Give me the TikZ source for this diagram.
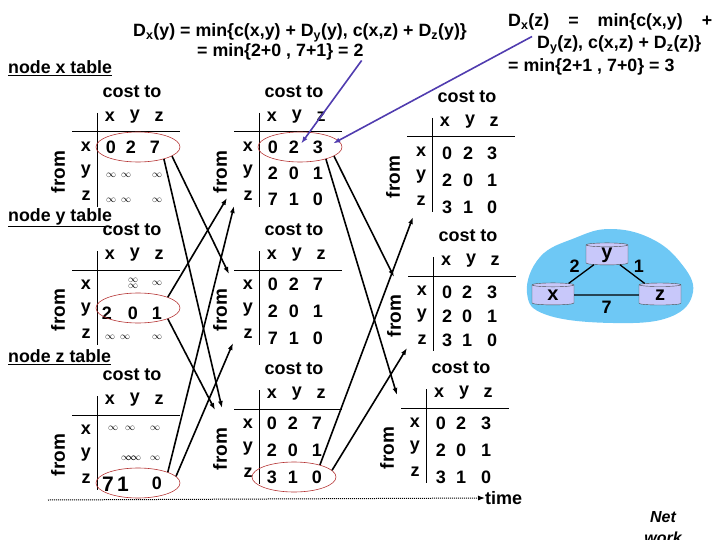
\documentclass[tikz,border=0pt]{standalone}
\usepackage{fontspec}
\setmainfont{Liberation Sans}
\usetikzlibrary{shapes.geometric,arrows.meta}
\definecolor{cloudblue}{RGB}{110,200,245}
\definecolor{routerlav}{RGB}{200,200,250}
\definecolor{ovalred}{RGB}{180,50,50}
\definecolor{calcblue}{RGB}{80,60,175}
% one distance-vector table: name, x of the vertical rule, y of the horizontal rule
\newcommand{\dvtable}[3]{%
  \node[big] (#1cost) at (#2+35,#3-40) {cost to};
  \node[big] (#1hx) at (#2+13,#3-15) {x};
  \node[big] (#1hy) at (#2+38,#3-15) {y};
  \node[big] (#1hz) at (#2+62,#3-15) {z};
  \node[big] (#1rx) at (#2-11,#3+15) {x};
  \node[big] (#1ry) at (#2-11,#3+40) {y};
  \node[big] (#1rz) at (#2-11,#3+64) {z};
  \draw[rule] (#2-25,#3) -- (#2+83,#3);
  \draw[rule] (#2,#3-19) -- (#2,#3+75);
  \node[big, font=\fontsize{19}{22}\selectfont\bfseries, rotate=90] (#1from) at (#2-39,#3+40) {from};
}
\begin{document}
\begin{tikzpicture}[x=1pt, y=-1pt, >={Latex[length=7pt,width=5pt]},
    big/.style={font=\fontsize{18}{21}\selectfont\bfseries, inner sep=0pt},
    inf/.style={font=\fontsize{10}{12}\selectfont, inner sep=0pt},
    note/.style={font=\fontsize{17.8}{21}\selectfont\bfseries, inner sep=0pt, anchor=west},
    rule/.style={line width=1pt},
    oval/.style={ellipse, draw=ovalred, line width=0.6pt, minimum width=84pt, minimum height=30pt, inner sep=0pt},
    upd/.style={->, line width=1.6pt},
    calc/.style={->, line width=1.6pt, calcblue},
    router/.style={cylinder, shape border rotate=90, aspect=0.35, draw=black!70, fill=routerlav,
      minimum width=42pt, minimum height=22pt, inner sep=0pt, font=\fontsize{20}{22}\selectfont\bfseries}]
\useasboundingbox (0,0) rectangle (720,540);

% equations at the top
\node[note] (dxy1) at (133,33) {D\textsubscript{x}(y) = min\{c(x,y) + D\textsubscript{y}(y), c(x,z) + D\textsubscript{z}(y)\}};
\node[note] (dxy2) at (197,52) {= min\{2+0 , 7+1\} = 2};
\node[note] (dxz1) at (508,22) {\makebox[204pt][s]{D\textsubscript{x}(z) = min\{c(x,y) +}};
\node[note] (dxz2) at (537,45) {D\textsubscript{y}(z), c(x,z) + D\textsubscript{z}(z)\}};
\node[note] (dxz3) at (508,67) {= min\{2+1 , 7+0\} = 3};

\node[note] (xtitle) at (8,68) {\underline{node x table}};
\node[note] (ytitle) at (8,218) {\underline{node y table}};
\node[note] (ztitle) at (8,357) {\underline{node z table}};

% time 0
\dvtable{x1}{97}{132}
\dvtable{y1}{97}{270}
\dvtable{z1}{97}{415}
\node[big] (x1a) at (111,147) {0};
\node[big] (x1b) at (131,147) {2};
\node[big] (x1c) at (155,147) {7};
\foreach \r/\yy in {1/175,2/200}
  \foreach \c/\xx in {1/111,2/126,3/157}
    \node[inf] (x1i\r\c) at (\xx,\yy) {$\infty$};
\node[inf] (y1i1) at (133,280) {$\infty$};
\node[inf] (y1i2) at (133,286) {$\infty$};
\node[inf] (y1i3) at (157,283) {$\infty$};
\node[big] (y1a) at (107,313) {2};
\node[big] (y1b) at (133,313) {0};
\node[big] (y1c) at (157,313) {1};
\foreach \c/\xx in {1/110,2/125,3/157}
  \node[inf] (y1z\c) at (\xx,337) {$\infty$};
\foreach \c/\xx in {1/113,2/130,3/155}
  \node[inf] (z1x\c) at (\xx,428) {$\infty$};
\foreach \c/\xx in {1/126,2/131,3/136,4/155}
  \node[inf] (z1y\c) at (\xx,458) {$\infty$};
\node[big, font=\fontsize{21}{23}\selectfont\bfseries] (z1a) at (108,484) {7};
\node[big, font=\fontsize{21}{23}\selectfont\bfseries] (z1b) at (123,484) {1};
\node[big] (z1c) at (157,483) {0};

% time 1
\dvtable{x2}{259}{132}
\dvtable{y2}{259}{270}
\dvtable{z2}{259}{409}
\foreach \a/\b/\c [count=\r from 0] in {0/2/3,2/0/1,7/1/0} {
  \node[big] (x2-\r-1) at (273,147+\r*26) {\a};
  \node[big] (x2-\r-2) at (294,147+\r*26) {\b};
  \node[big] (x2-\r-3) at (318,147+\r*26) {\c};
}
\foreach \a/\b/\c [count=\r from 0] in {0/2/7,2/0/1,7/1/0} {
  \node[big] (y2-\r-1) at (273,284+\r*27) {\a};
  \node[big] (y2-\r-2) at (294,284+\r*27) {\b};
  \node[big] (y2-\r-3) at (318,284+\r*27) {\c};
}
\foreach \a/\b/\c [count=\r from 0] in {0/2/7,2/0/1,3/1/0} {
  \node[big] (z2-\r-1) at (272,423+\r*27) {\a};
  \node[big] (z2-\r-2) at (293,423+\r*27) {\b};
  \node[big] (z2-\r-3) at (317,423+\r*27) {\c};
}

% time 2
\dvtable{x3}{432}{137}
\dvtable{y3}{433}{276}
\dvtable{z3}{426}{408}
\foreach \a/\b/\c [count=\r from 0] in {0/2/3,2/0/1,3/1/0} {
  \node[big] (x3-\r-1) at (447,153+\r*27) {\a};
  \node[big] (x3-\r-2) at (468,153+\r*27) {\b};
  \node[big] (x3-\r-3) at (492,153+\r*27) {\c};
  \node[big] (y3-\r-1) at (447,292+\r*24) {\a};
  \node[big] (y3-\r-2) at (467,292+\r*24) {\b};
  \node[big] (y3-\r-3) at (492,292+\r*24) {\c};
  \node[big] (z3-\r-1) at (441,423+\r*27) {\a};
  \node[big] (z3-\r-2) at (461,423+\r*27) {\b};
  \node[big] (z3-\r-3) at (486,423+\r*27) {\c};
}

% rows that are sent
\node[oval] (x1row) at (138,147) {};
\node[oval] (y1row) at (138,308) {};
\node[oval] (z1row) at (138,483) {};
\node[oval] (x2row) at (300,147) {};
\node[oval] (z2row) at (294,477) {};

% where the messages arrive
\coordinate (y2in1) at (229,274);
\coordinate (z2in1) at (222,408);
\coordinate (z2in2) at (215,410);
\coordinate (x2in1) at (227,198);
\coordinate (x2in2) at (234,206);
\coordinate (y2in2) at (233,343);
\coordinate (y3in1) at (394,277);
\coordinate (z3in1) at (397,395);
\coordinate (x3in1) at (413,217);
\coordinate (y3in2) at (407,348);

\draw[upd] (x1row.-15) -- (y2in1);
\draw[upd] (x1row.-25) -- (z2in1);
\draw[upd] (y1row.20) -- (x2in1);
\draw[upd] (y1row.-20) -- (z2in2);
\draw[upd] (z1row.20) -- (x2in2);
\draw[upd] (z1row.10) -- (y2in2);
\draw[upd] (x2row.-15) -- (y3in1);
\draw[upd] (x2row.-25) -- (z3in1);
\draw[upd] (z2row.25) -- (x3in1);
\draw[upd] (z2row.10) -- (y3in2);

\draw[calc] ([xshift=-2pt]dxy2.south east) -- ([shift={(2pt,-3pt)}]x2-0-2.north east);
\draw[calc] ([xshift=24pt,yshift=-6pt]dxz1.south west) -- ([xshift=10pt,yshift=-3pt]x2-0-3.north east);

% time axis
\coordinate (tstart) at (48,500);
\node[big, anchor=west] (time) at (485,498) {time};
\draw[->, line width=1pt, dash pattern=on 1pt off 1pt] (tstart) -- (time.west);

% the network
\fill[cloudblue] plot[smooth cycle, tension=0.7] coordinates
  {(527,293) (540,257) (575,238) (610,229) (650,238) (680,262) (693,292) (670,317) (613,323) (547,315)};
\node[router] (rx) at (553,295) {x};
\node[router] (ry) at (607,255) {y};
\node[router] (rz) at (660,295) {z};
\draw[line width=1.3pt] (rx) -- node[big, above left=1pt] (c2) {2} (ry);
\draw[line width=1.3pt] (ry) -- node[big, above right=1pt] (c1) {1} (rz);
\draw[line width=1.3pt] (rx) -- node[big, below=5pt] (c7) {7} (rz);

\node[font=\fontsize{16}{21}\selectfont\bfseries\itshape, align=center, inner sep=0pt] (foot) at (663,528) {Net\\work};
\end{tikzpicture}
\end{document}
